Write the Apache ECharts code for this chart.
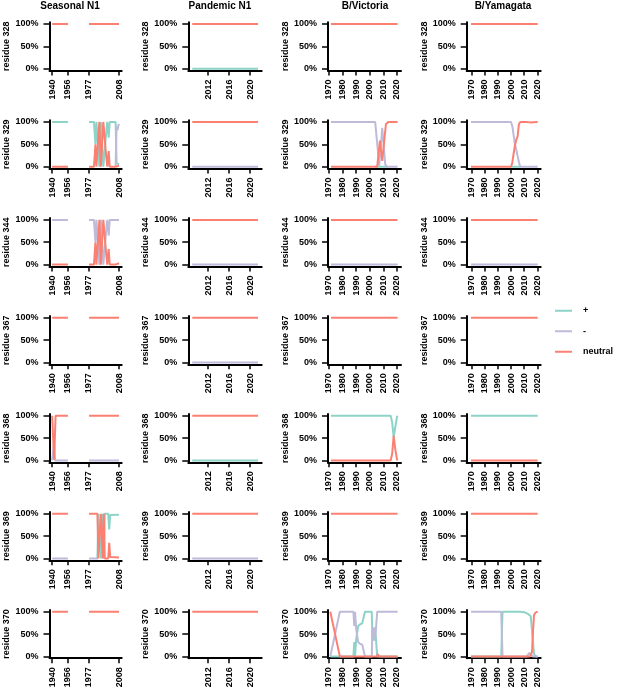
<!DOCTYPE html>
<html>
<head>
<meta charset="utf-8">
<title>Residue charge over time</title>
<script src="https://cdn.jsdelivr.net/npm/echarts@6/dist/echarts.min.js"></script>
<style>
  html, body { margin: 0; padding: 0; background: #fff; }
  #chart { width: 617px; height: 689px; }
</style>
</head>
<body>
<div id="chart"></div>
<script>
const SUBTYPES = ['Seasonal N1', 'Pandemic N1', 'B/Victoria', 'B/Yamagata'];
const RESIDUES = [328, 329, 344, 367, 368, 369, 370];
const STATES = ['+', '-', 'neutral'];
const STATE_COLORS = ['#8dd3c7', '#bebada', '#fb8072'];

const X_TICKS = [
  [1940, 1956, 1977, 2008],
  [2012, 2016, 2020],
  [1970, 1980, 1990, 2000, 2010, 2020],
  [1970, 1980, 1990, 2000, 2010, 2020]
];
const Y_TICKS = [0, 50, 100];

// no seasonal H1N1 between 1957 and 1976 -> break the line
const GAP = [1966, null];

// per residue: [+, -, neutral], each a list of [year, %] knots; null = state not seen
const seasonalN1 = {
  328: [null, null,
    [[1940, 100], [1956, 100], GAP, [1977.5, 100], [2008, 100]]],
  329: [
    [[1940, 100], [1956, 100], GAP, [1977.5, 100], [1982.5, 100], [1984, 50], [1985, 100], [1986.5, 100], [1988, 0], [1989.5, 100], [1991, 100], [1992, 0], [1994.5, 65], [1996, 100], [1997.5, 65], [1998.5, 100], [2004.5, 100], [2005.5, 8], [2008, 5]],
    [[2004.5, 0], [2005.5, 90], [2006.5, 82], [2007.5, 95], [2008, 92]],
    [[1940, 0], [1956, 0], GAP, [1977.5, 0], [1982.5, 0], [1984, 50], [1985, 0], [1986.5, 0], [1988, 100], [1989.5, 0], [1991, 0], [1992, 100], [1994.5, 35], [1996, 0], [1997.5, 35], [1998.5, 0], [2004.5, 0], [2005.5, 3], [2008, 2]]],
  344: [null,
    [[1940, 100], [1956, 100], GAP, [1977.5, 100], [1982.5, 100], [1984, 50], [1985, 100], [1986.5, 100], [1988, 0], [1989.5, 100], [1991, 100], [1992, 0], [1994.5, 65], [1996, 100], [1997.5, 65], [1998.5, 100], [2008, 100]],
    [[1940, 0], [1956, 0], GAP, [1977.5, 0], [1982.5, 0], [1984, 50], [1985, 0], [1986.5, 0], [1988, 100], [1989.5, 0], [1991, 0], [1992, 100], [1994.5, 35], [1996, 0], [1997.5, 35], [1998.5, 0], [2004.5, 0], [2005, 3], [2008, 3]]],
  367: [null, null,
    [[1940, 100], [1956, 100], GAP, [1977.5, 100], [2008, 100]]],
  368: [null,
    [[1940, 0], [1941, 0], [1942, 40], [1943, 0], [1956, 0], GAP, [1977.5, 0], [2008, 0]],
    [[1940, 100], [1941, 100], [1942, 2], [1943.5, 100], [1956, 100], GAP, [1977.5, 100], [2008, 100]]],
  369: [
    [[1986, 0], [1987, 100], [1988.5, 100], [1989.5, 0], [1990.5, 0], [1991.5, 100], [1992.5, 0], [1993.5, 100], [1997, 100], [1998, 65], [1999, 97], [2008, 98]],
    [[1940, 0], [1956, 0], GAP, [1977.5, 0], [1986.5, 0]],
    [[1940, 100], [1956, 100], GAP, [1977.5, 100], [1986, 100], [1987, 0], [1988.5, 0], [1989.5, 100], [1990.5, 100], [1991.5, 0], [1992.5, 100], [1993.5, 0], [1997, 0], [1998, 35], [1999, 3], [2008, 2]]],
  370: [null, null,
    [[1940, 100], [1956, 100], GAP, [1977.5, 100], [2008, 100]]]
};

const pandemicN1 = {
  328: [[[2009, 0], [2021.5, 0]], null, [[2009, 100], [2021.5, 100]]],
  329: [null, [[2009, 0], [2021.5, 0]], [[2009, 100], [2021.5, 100]]],
  344: [null, [[2009, 0], [2021.5, 0]], [[2009, 100], [2021.5, 100]]],
  367: [null, [[2009, 0], [2021.5, 0]], [[2009, 100], [2021.5, 100]]],
  368: [[[2009, 0], [2021.5, 0]], null, [[2009, 100], [2021.5, 100]]],
  369: [null, [[2009, 0], [2021.5, 0]], [[2009, 100], [2021.5, 100]]],
  370: [null, null, [[2009, 100], [2021.5, 100]]]
};

const bVictoria = {
  328: [null, null, [[1971.5, 100], [2020.5, 100]]],
  329: [
    [[2004, 0], [2013, 0]],
    [[1971.5, 100], [2002, 100], [2003, 97], [2004, 100], [2005, 100], [2007, 2], [2009.2, 87], [2011.4, 5], [2012.5, 0], [2020.5, 0]],
    [[1971.5, 0], [2001.5, 0], [2002.5, 3], [2003.5, 0], [2005.5, 0], [2007.5, 58], [2009.2, 13], [2011.9, 95], [2013.6, 100], [2020.5, 100]]],
  344: [null, [[1971.5, 0], [2020.5, 0]], [[1971.5, 100], [2020.5, 100]]],
  367: [null, null, [[1971.5, 100], [2020.5, 100]]],
  368: [
    [[1971.5, 100], [2015.4, 100], [2016.5, 85], [2017.6, 52], [2018.8, 75], [2020.2, 100]],
    null,
    [[1971.5, 0], [2015.4, 0], [2016.5, 15], [2017.6, 55], [2018.8, 25], [2020.2, 0]]],
  369: [null, null, [[1971.5, 100], [2020.5, 100]]],
  370: [
    [[1971, 0], [1988, 0], [1988.6, 32], [1989.2, 0], [1990, 38], [1991.5, 68], [1993, 72], [1994.5, 74], [1996.5, 100], [2001.5, 100], [2002, 35], [2002.8, 62], [2003.4, 35], [2004, 60], [2004.6, 38], [2005.5, 0], [2020.5, 0]],
    [[1971, 0], [1978, 100], [1988, 100], [1988.6, 68], [1989.2, 100], [1990, 62], [1991.5, 32], [1993, 28], [1994.5, 26], [1996.5, 0], [2001.5, 0], [2002, 65], [2002.8, 38], [2003.4, 65], [2004, 40], [2004.6, 62], [2005.5, 100], [2020.5, 100]],
    [[1971, 100], [1978, 0], [2005.3, 0], [2006, 5], [2006.8, 0], [2020.5, 0]]]
};

const bYamagata = {
  328: [null, null, [[1969.5, 100], [2020.3, 100]]],
  329: [
    [[2000, 0], [2007, 0]],
    [[1969.5, 100], [2000, 100], [2001, 90], [2002, 70], [2003, 50], [2004, 38], [2005, 35], [2006, 10], [2007, 0], [2012, 0], [2013, 3], [2014, 0], [2020.3, 0]],
    [[1969.5, 0], [2000, 0], [2001, 10], [2002, 30], [2003, 48], [2004, 60], [2005, 68], [2006, 95], [2007, 100], [2012, 100], [2013, 96], [2014, 99], [2020.3, 100]]],
  344: [null, [[1969.5, 0], [2020.3, 0]], [[1969.5, 100], [2020.3, 100]]],
  367: [null, null, [[1969.5, 100], [2020.3, 100]]],
  368: [[[1969.5, 100], [2020.3, 100]], null, [[1969.5, 0], [2020.3, 0]]],
  369: [null, null, [[1969.5, 100], [2020.3, 100]]],
  370: [
    [[1969.5, 0], [1992.5, 0], [1993.5, 100], [2007, 100], [2010, 99], [2013, 95], [2015, 90], [2016.5, 40], [2017.5, 5], [2019, 0], [2020.3, 0]],
    [[1969.5, 100], [1992.5, 100], [1993.5, 0], [2012, 0], [2014, 8], [2015.5, 5], [2016.5, 0], [2020.3, 0]],
    [[1969.5, 0], [2014.5, 0], [2016, 10], [2016.8, 60], [2017.5, 92], [2018.5, 98], [2020.3, 100]]]
};

const PANELS = [seasonalN1, pandemicN1, bVictoria, bYamagata];

// layout (px) and axis extents
const COL_LEFT = [49.5, 188.3, 328, 466.7];
const COL_WIDTH = [72.2, 73.4, 73, 74];
const TITLE_X = [70, 220, 365, 503];
const X_MIN = [1937.3, 2008.25, 1969.3, 1966.2];
const X_MAX = [2010.7, 2022.2, 2023, 2022.6];
const ROW_TOP = 22.2;
const ROW_STEP = 97.95;
const PLOT_H = 48.3;

const FONT = '"Liberation Sans", Arial, Helvetica, sans-serif';
const labelStyle = { fontSize: 9, fontWeight: 'bold', color: '#000', fontFamily: FONT };

const grids = [], xAxes = [], yAxes = [], series = [];

SUBTYPES.forEach((sub, c) => {
  RESIDUES.forEach((res, r) => {
    const i = grids.length;
    grids.push({
      left: COL_LEFT[c], width: COL_WIDTH[c],
      top: ROW_TOP + r * ROW_STEP, height: PLOT_H,
      containLabel: false, outerBoundsMode: 'none'
    });
    xAxes.push({
      gridIndex: i, type: 'value', position: 'bottom',
      min: X_MIN[c], max: X_MAX[c],
      axisLine: { show: true, onZero: false, lineStyle: { color: '#000', width: 2 } },
      axisTick: { show: true, length: 5, customValues: X_TICKS[c], lineStyle: { color: '#000', width: 1.5 } },
      axisLabel: Object.assign({
        show: true, customValues: X_TICKS[c], rotate: 90, margin: 9,
        formatter: v => String(v)
      }, labelStyle),
      splitLine: { show: false }
    });
    yAxes.push({
      gridIndex: i, type: 'value', min: -4, max: 104,
      name: 'residue ' + res, nameLocation: 'middle', nameGap: 38, nameRotate: 90,
      nameTextStyle: labelStyle,
      axisLine: { show: true, onZero: false, lineStyle: { color: '#000', width: 2 } },
      axisTick: { show: true, length: 6, customValues: Y_TICKS, lineStyle: { color: '#000', width: 1.5 } },
      axisLabel: Object.assign({ show: true, customValues: Y_TICKS, formatter: v => v + '%', margin: 11 }, labelStyle),
      splitLine: { show: false }
    });
    const panel = PANELS[c][res];
    STATES.forEach((state, k) => {
      if (!panel[k]) return;
      series.push({
        name: state, type: 'line',
        xAxisIndex: i, yAxisIndex: i,
        data: panel[k],
        symbol: 'none', showSymbol: false, connectNulls: false,
        color: STATE_COLORS[k],
        lineStyle: { width: 2, color: STATE_COLORS[k] },
        emphasis: { disabled: true }, silent: true
      });
    });
  });
});

const chart = echarts.init(document.getElementById('chart'), null, { renderer: 'canvas' });
chart.setOption({
  animation: false,
  backgroundColor: '#fff',
  textStyle: { fontFamily: FONT },
  grid: grids,
  xAxis: xAxes,
  yAxis: yAxes,
  series: series,
  legend: {
    data: STATES, orient: 'vertical', left: 555, top: 305, padding: 0,
    icon: 'rect', itemWidth: 17, itemHeight: 2, itemGap: 9, selectedMode: false,
    textStyle: Object.assign({ padding: [0, 0, 0, 6], lineHeight: 11.5 }, labelStyle)
  },
  graphic: SUBTYPES.map((sub, c) => ({
    type: 'text', x: TITLE_X[c], y: 6,
    style: { text: sub, fill: '#000', align: 'center', verticalAlign: 'middle', font: 'bold 10px ' + FONT }
  }))
});
</script>
</body>
</html>
